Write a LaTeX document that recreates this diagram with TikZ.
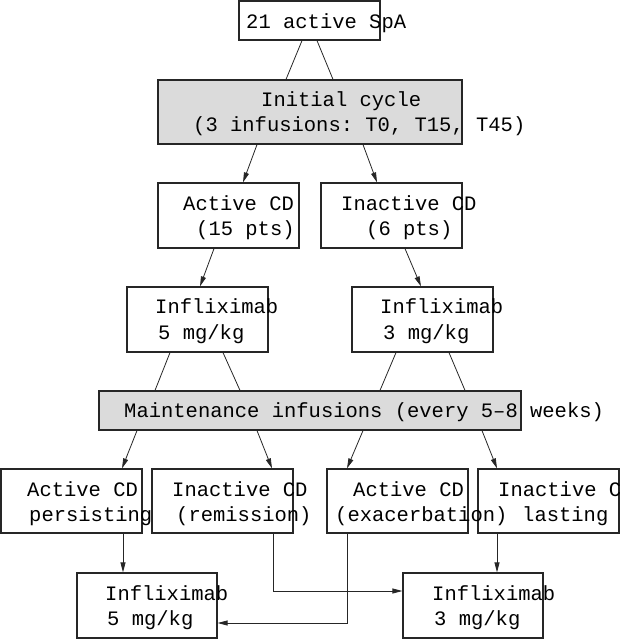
\documentclass[tikz,border=0pt]{standalone}
\usepackage{fontspec}
\setmonofont{Liberation Mono}
\usetikzlibrary{arrows.meta,calc}

\begin{document}
\begin{tikzpicture}[x=1pt,y=-1pt,
        box/.style={draw=black!85,line width=1.2pt,minimum width=141pt,minimum height=65pt,inner sep=0pt},
        greybox/.style={box,fill=black!14},
        txt/.style={anchor=base west,inner sep=0pt,font=\ttfamily\fontsize{20.5}{24}\selectfont},
        link/.style={draw=black!85,line width=0.8pt},
        arr/.style={link,-{Triangle[length=10pt,width=5pt]}}]
            \useasboundingbox (0,0) rectangle (620,639);

            % boxes
            \node[box,minimum height=39pt] (spa) at (309.5,20.5) {};
            \node[greybox,minimum width=304pt,minimum height=64pt] (init) at (310,112) {};
            \node[box] (act) at (228.5,215.5) {};
            \node[box] (inact) at (391.5,215.5) {};
            \node[box] (inf5) at (197.5,319.5) {};
            \node[box] (inf3) at (422.5,319.5) {};
            \node[greybox,minimum width=422pt,minimum height=39pt] (maint) at (310,410.5) {};
            \node[box,minimum height=64pt] (persist) at (71.5,501) {};
            \node[box,minimum height=64pt] (remis) at (222.5,501) {};
            \node[box,minimum height=64pt] (exac) at (397.5,501) {};
            \node[box,minimum height=64pt] (last) at (548.5,501) {};
            \node[box,minimum width=140pt] (low5) at (147,605.5) {};
            \node[box,minimum width=140pt] (low3) at (473,605.5) {};

            % texts
            \node[txt] (spa-a) at (246,28.5) {21 active SpA};
            \node[txt] (init-a) at (261,107) {Initial cycle};
            \node[txt] (init-b) at (193,132) {(3 infusions: T0, T15, T45)};
            \node[txt] (act-a) at (183,210) {Active CD};
            \node[txt] (act-b) at (196,235) {(15 pts)};
            \node[txt] (inact-a) at (341,210) {Inactive CD};
            \node[txt] (inact-b) at (366,235) {(6 pts)};
            \node[txt] (inf5-a) at (155,313) {Infliximab};
            \node[txt] (inf5-b) at (158,339) {5 mg/kg};
            \node[txt] (inf3-a) at (380,313) {Infliximab};
            \node[txt] (inf3-b) at (383,339) {3 mg/kg};
            \node[txt] (maint-a) at (124,417) {Maintenance infusions (every 5–8 weeks)};
            \node[txt] (persist-a) at (27,496) {Active CD};
            \node[txt] (persist-b) at (29,521) {persisting};
            \node[txt] (remis-a) at (172,496) {Inactive CD};
            \node[txt] (remis-b) at (176,521) {(remission)};
            \node[txt] (exac-a) at (353,496) {Active CD};
            \node[txt] (exac-b) at (335,521) {(exacerbation)};
            \node[txt] (last-a) at (498,496) {Inactive CD};
            \node[txt] (last-b) at (522,521) {lasting};
            \node[txt] (low5-a) at (105,600) {Infliximab};
            \node[txt] (low5-b) at (107,625) {5 mg/kg};
            \node[txt] (low3-a) at (432,600) {Infliximab};
            \node[txt] (low3-b) at (434,625) {3 mg/kg};

            % connectors
            \draw[link] ($(spa.south)+(-7.5,0)$) -- ($(init.north)+(-24,0)$);
            \draw[link] ($(spa.south)+(7.5,0)$) -- ($(init.north)+(23,0)$);
            \draw[arr] ($(init.south)+(-53,0)$) -- ($(act.north)+(14.5,0)$);
            \draw[arr] ($(init.south)+(53,0)$) -- ($(inact.north)+(-14.5,0)$);
            \draw[arr] ($(act.south)+(-14.5,0)$) -- ($(inf5.north)+(2.5,0)$);
            \draw[arr] ($(inact.south)+(13.5,0)$) -- ($(inf3.north)+(-1.5,0)$);
            \draw[link] ($(inf5.south)+(-27.5,0)$) -- ($(maint.north)+(-155,0)$);
            \draw[link] ($(inf5.south)+(25.5,0)$) -- ($(maint.north)+(-70,0)$);
            \draw[link] ($(inf3.south)+(-26.5,0)$) -- ($(maint.north)+(70,0)$);
            \draw[link] ($(inf3.south)+(26.5,0)$) -- ($(maint.north)+(155,0)$);
            \draw[arr] ($(maint.south)+(-173,0)$) -- ($(persist.north)+(50.5,0)$);
            \draw[arr] ($(maint.south)+(-53,0)$) -- ($(remis.north)+(49.5,0)$);
            \draw[arr] ($(maint.south)+(53,0)$) -- ($(exac.north)+(-50.5,0)$);
            \draw[arr] ($(maint.south)+(172,0)$) -- ($(last.north)+(-51.5,0)$);
            \draw[arr] ($(persist.south)+(51.5,0)$) -- ($(low5.north)+(-24,0)$);
            \draw[arr] ($(remis.south)+(50.5,0)$) |- ($(low3.west)+(0,-14.5)$);
            \draw[arr] ($(exac.south)+(-50.5,0)$) |- ($(low5.east)+(0,17.5)$);
            \draw[arr] ($(last.south)+(-51.5,0)$) -- ($(low3.north)+(24,0)$);
        \end{tikzpicture}
\end{document}
